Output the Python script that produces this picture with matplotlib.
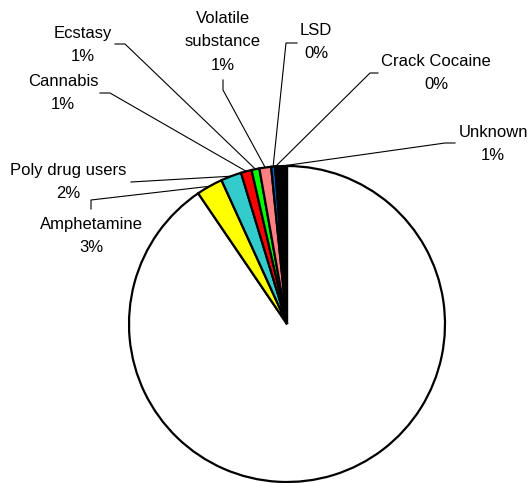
import numpy as np
import matplotlib
matplotlib.use('Agg')
import matplotlib.pyplot as plt

plt.rcParams['font.family'] = ['Liberation Sans', 'DejaVu Sans']

# slices go clockwise from 12 o'clock; first (largest) slice has no label
categories = ['', 'Amphetamine', 'Poly drug users', 'Cannabis', 'Ecstasy',
              'Volatile\nsubstance', 'LSD', 'Crack Cocaine', 'Unknown']
shares = [90.5, 2.7, 2.1, 1.1, 0.8, 1.2, 0.4, 0.1, 1.1]
pct_labels = ['', '3%', '2%', '1%', '1%', '1%', '0%', '0%', '1%']
colors = ['#FFFFFF', '#FFFF00', '#33CCCC', '#FF0000', '#00FF00',
          '#FF8080', '#0066CC', '#000080', '#000000']

W, H = 531, 483
cx, cy, R = 287, 324, 158   # pie centre and radius in pixels


def px(x, y):
    return (x - cx) / R, (cy - y) / R


fig = plt.figure(figsize=(W / 100, H / 100), dpi=100)
ax = fig.add_axes([0, 0, 1, 1])
wedges, _ = ax.pie(shares, colors=colors, startangle=90, counterclock=False,
                   wedgeprops=dict(edgecolor='black', linewidth=1.6))
ax.set_aspect('auto')
ax.set_xlim(-cx / R, (W - cx) / R)
ax.set_ylim(-(H - cy) / R, cy / R)
ax.axis('off')

# label layout: text centre (px) and leader path points (px) from label to pie
layout = {
    1: ((91, 236), [(91, 209), (91, 200)]),
    2: ((68, 182), [(131, 182)]),
    3: ((63, 93), [(100, 93), (110, 93)]),
    4: ((83, 45), [(115, 44), (125, 44)]),
    5: ((223, 42), [(223, 80), (223, 90)]),
    6: ((316, 42), [(297, 43), (286, 43)]),
    7: ((436, 73), [(378, 73), (370, 73)]),
    8: ((493, 144), [(455, 143), (445, 143)]),
}

for i, ((tx, ty), path) in layout.items():
    w = wedges[i]
    mid = np.deg2rad((w.theta1 + w.theta2) / 2)
    start = (w.r * np.cos(mid), w.r * np.sin(mid))
    pts = [px(*p) for p in path] + [start]
    ax.plot([p[0] for p in pts], [p[1] for p in pts], color='black', lw=0.8,
            zorder=0.5)
    fig.text(tx / W, 1 - ty / H, categories[i] + '\n' + pct_labels[i],
             ha='center', va='center', fontsize=12, linespacing=1.7,
             multialignment='center')

fig.savefig('out.png', dpi=100)
